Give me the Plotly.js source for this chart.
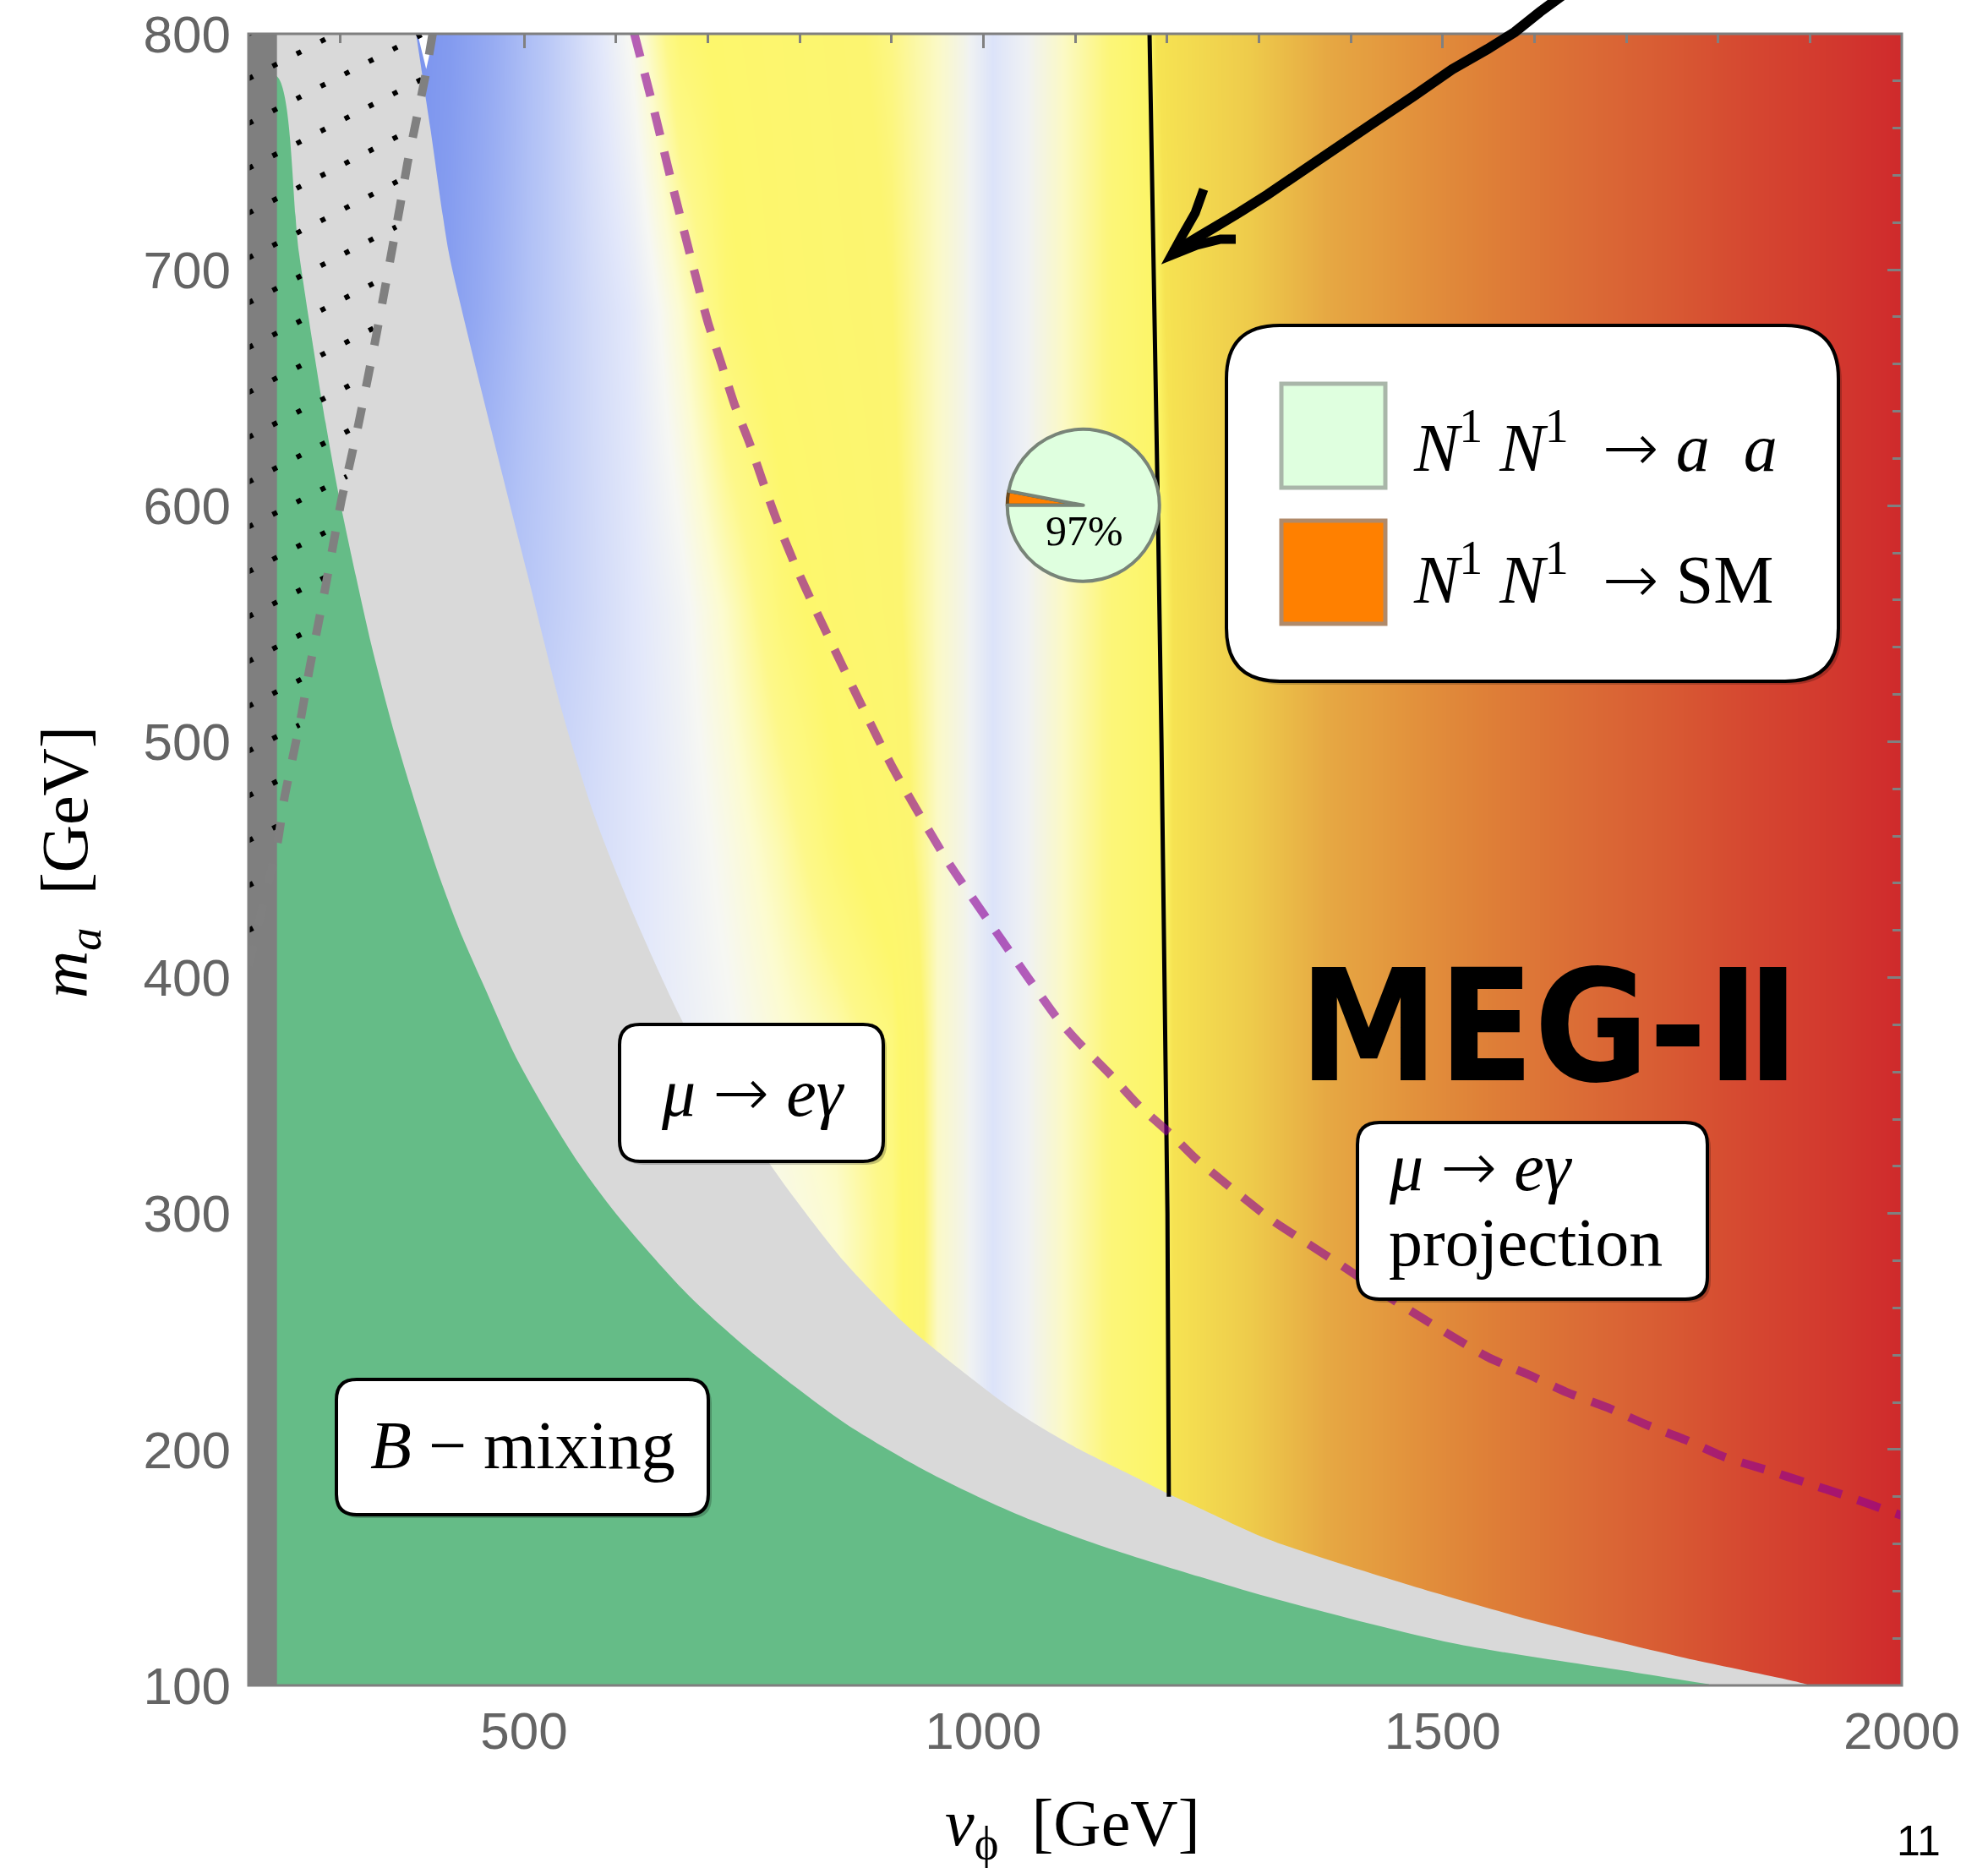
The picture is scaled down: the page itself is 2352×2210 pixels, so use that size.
<!DOCTYPE html>
<html><head><meta charset="utf-8">
<script src="https://cdn.plot.ly/plotly-3.0.1.min.js"></script>
<style>html,body{margin:0;padding:0;background:#fff}</style>
</head><body><div id="chart" style="width:2352px;height:2210px"></div>
<script>
// ---------------- data ----------------
// B-mixing excluded region (green), upper boundary
const greenX = [231, 255, 284, 298, 317, 335, 360, 384, 408.5, 433, 458, 489, 520, 560, 600, 680, 758, 850, 942, 1034, 1126, 1236, 1310, 1510, 1710, 1790];
const greenY = [782, 707, 635, 605, 570, 539, 502, 471, 442, 417, 395, 368, 346, 321, 300, 265, 238, 211, 190, 173, 159.5, 146, 137.5, 118, 105.5, 100.5];
// mu -> e gamma excluded region (light gray), upper boundary
const grayTopX = [382.5, 398, 417.7, 431.6, 466.9, 503.7, 540.5, 577.1, 620.1, 669.2, 715, 764, 788.7, 850, 911.4, 972.7, 1034, 1095.4, 1156.7, 1202.7, 1236.4, 1310, 1460, 1610, 1760, 1895, 1905];
const grayTopY = [800, 760, 708, 684, 628, 571, 514, 468, 426, 384, 351, 323, 309.5, 279, 254.4, 234.5, 216.5, 202, 190, 181, 175, 162, 143, 126.3, 112, 100.6, 99];
// small white gap at the top
const gapX = [384, 402, 393.5];
const gapY = [800, 800, 785];
// dark gray band on the left (v_phi range)
const bandX = [195, 231];
// gray dashed curve (upper left)
const lfvX = [400.5, 392, 382.5, 373, 365, 357, 339, 320, 311, 301, 292, 284, 275, 266, 258, 248.5, 239, 232, 200];
const lfvY = [800, 781, 763, 745, 727, 710, 672, 635, 619, 602, 583, 566, 548, 530, 512, 494, 476, 458, 405];
// dotted hatching: m_a where each dotted line meets v_phi = 200, and the slope of the lines
const hatchIntercepts = [800, 781, 762, 743, 724, 705, 686, 667, 648, 629, 610, 591, 572, 553, 534, 515, 496, 477, 458, 439, 420];
const hatchSlope = 0.2;
// MEG-II projection (purple dashed)
const megX = [620, 640, 662, 688, 700, 715, 729, 746, 761, 776, 795, 816, 900, 960, 1020, 1080, 1105, 1138, 1170, 1206, 1232, 1315, 1352, 1390, 1460, 1550, 1592, 1635, 1680, 1722, 1765, 1807, 1852, 1895, 1942, 1985, 2000];
const megY = [800, 770, 735, 695.5, 678, 660, 643, 626, 609, 593, 575, 557, 490, 450, 416, 383, 372, 359, 345.5, 333, 323, 297, 287.6, 278, 260, 239, 232, 224.3, 217.7, 210.5, 204, 196.8, 191.4, 186, 180, 174, 172];
// black solid curve
const relicX = [1181, 1186, 1190, 1194, 1197.5, 1200.5, 1202];
const relicY = [800, 700, 600, 500, 400, 300, 180];
// background colour map (value t read along rows of the picture)
const bgX = [200, 380, 420, 470, 520, 570, 620, 670, 720, 780, 840, 900, 950, 980, 1010, 1040, 1080, 1130, 1182, 1188, 1198, 1206, 1290, 1374, 1470, 1560, 1650, 1746, 1840, 1932, 2000];
const bgY = [100, 294, 376, 455, 556, 682, 800];
const bgT = [
  [0.2, 0.2, 0.2, 0.2, 0.2, 0.2, 0.22, 0.24, 0.26, 0.28, 0.30, 0.35, 0.48, 0.505, 0.54, 0.565, 0.595, 0.635, 0.662, 0.665, 0.67, 0.68, 0.72, 0.76, 0.80, 0.84, 0.88, 0.92, 0.95, 0.98, 1.0],
  [0.2, 0.2, 0.2, 0.2, 0.2, 0.2, 0.22, 0.24, 0.26, 0.28, 0.30, 0.35, 0.48, 0.505, 0.54, 0.565, 0.595, 0.635, 0.662, 0.665, 0.67, 0.68, 0.72, 0.76, 0.80, 0.84, 0.88, 0.92, 0.95, 0.98, 1.0],
  [0.18, 0.18, 0.18, 0.19, 0.195, 0.2, 0.225, 0.245, 0.265, 0.295, 0.32, 0.36, 0.48, 0.505, 0.54, 0.565, 0.595, 0.635, 0.662, 0.665, 0.67, 0.68, 0.72, 0.76, 0.80, 0.84, 0.88, 0.92, 0.95, 0.98, 1.0],
  [0.15, 0.15, 0.15, 0.16, 0.17, 0.195, 0.222, 0.25, 0.28, 0.32, 0.37, 0.41, 0.48, 0.505, 0.54, 0.565, 0.595, 0.635, 0.662, 0.665, 0.67, 0.68, 0.72, 0.76, 0.80, 0.84, 0.88, 0.92, 0.95, 0.98, 1.0],
  [0.05, 0.05, 0.08, 0.11, 0.145, 0.185, 0.225, 0.26, 0.305, 0.365, 0.40, 0.43, 0.48, 0.505, 0.54, 0.565, 0.595, 0.635, 0.662, 0.665, 0.67, 0.68, 0.72, 0.76, 0.80, 0.84, 0.88, 0.92, 0.95, 0.98, 1.0],
  [0.0, 0.0, 0.03, 0.08, 0.135, 0.19, 0.235, 0.30, 0.37, 0.40, 0.42, 0.44, 0.48, 0.505, 0.54, 0.565, 0.595, 0.635, 0.665, 0.67, 0.68, 0.684, 0.72, 0.76, 0.80, 0.84, 0.88, 0.92, 0.95, 0.98, 1.0],
  [0.0, 0.0, 0.02, 0.07, 0.13, 0.21, 0.28, 0.37, 0.39, 0.41, 0.43, 0.45, 0.48, 0.505, 0.54, 0.565, 0.595, 0.635, 0.67, 0.68, 0.683, 0.686, 0.72, 0.76, 0.80, 0.84, 0.88, 0.92, 0.95, 0.98, 1.0]
];
const bgStops  = [0.00, 0.06, 0.12, 0.18, 0.23, 0.27, 0.30, 0.34, 0.38, 0.44, 0.48, 0.51, 0.54, 0.57, 0.60, 0.64, 0.67, 0.68, 0.72, 0.76, 0.80, 0.84, 0.88, 0.92, 0.95, 0.98, 1.00];
const bgColors = ['#7b94ee', '#94a9f2', '#b2c2f6', '#ccd6f8', '#e3e8fa', '#f6f7f3', '#fcfbd0', '#fdf88a', '#fdf76c', '#fcf570', '#fbf9c6', '#f0f2f2', '#dce3f9', '#eff1f4', '#fbf9c6', '#fcf678', '#fcf566', '#f6e352', '#eecb4b', '#e6a843', '#e2913c', '#de7d37', '#db6c36', '#d85a33', '#d54630', '#d2372e', '#cf2a2c'];
// annihilation fractions in the pie
const pieLabels = ['N¹N¹ → SM', 'N¹N¹ → a a'];
const pieValues = [3, 97];
// ticks
const xTicks = [500, 1000, 1500, 2000];
const yTicks = [100, 200, 300, 400, 500, 600, 700, 800];

// ---------------- page geometry ----------------
const W = 2352, H = 2210, ML = 294, MR = 102, MT = 40, MB = 216;
const PW = W - ML - MR, PH = H - MT - MB;
const px = X => (X - ML) / PW;
const py = Y => (H - MB - Y) / PH;
const P = (X, Y) => px(X).toFixed(5) + ',' + py(Y).toFixed(5);
function rr(x0, y0, x1, y1, r) {
  return `M${P(x0 + r, y0)} L${P(x1 - r, y0)} Q${P(x1, y0)} ${P(x1, y0 + r)} L${P(x1, y1 - r)} Q${P(x1, y1)} ${P(x1 - r, y1)} L${P(x0 + r, y1)} Q${P(x0, y1)} ${P(x0, y1 - r)} L${P(x0, y0 + r)} Q${P(x0, y0)} ${P(x0 + r, y0)} Z`;
}
function poly(pts) { return 'M' + pts.map(p => P(p[0], p[1])).join(' L'); }

// hatch lines: from v_phi=200 up to the dashed curve
const hx = [], hy = [];
hatchIntercepts.forEach(b => {
  let xe = 200 + (820 - b) / hatchSlope;
  for (let i = 0; i < lfvX.length - 1; i++) {
    const x1 = lfvX[i], y1 = lfvY[i], x2 = lfvX[i + 1], y2 = lfvY[i + 1];
    const den = (y2 - y1) - hatchSlope * (x2 - x1);
    if (Math.abs(den) < 1e-9) continue;
    const t = (b + hatchSlope * (x1 - 200) - y1) / den;
    if (t >= 0 && t <= 1) { const xi = x1 + t * (x2 - x1); if (b + hatchSlope * (xi - 200) <= 800) { xe = xi; } break; }
  }
  hx.push(200, xe, null);
  hy.push(b, b + hatchSlope * (xe - 200), null);
});

const colorscale = bgStops.map((s, i) => [s, bgColors[i]]);
const noHover = { hoverinfo: 'skip', showlegend: false };

const traces = [
  Object.assign({ type: 'heatmap', x: bgX, y: bgY, z: bgT, zmin: 0, zmax: 1, zsmooth: 'best', colorscale: colorscale, showscale: false }, noHover),
  Object.assign({ type: 'scatter', mode: 'lines', x: [200, 378].concat(grayTopX), y: [812, 812].concat(grayTopY), fill: 'tozeroy', fillcolor: '#d9d9d9', line: { width: 0, color: '#d9d9d9', shape: 'spline', smoothing: 0.8 } }, noHover),
  Object.assign({ type: 'scatter', mode: 'lines', x: gapX, y: gapY, fill: 'toself', fillcolor: '#ffffff', line: { width: 0, color: '#ffffff' } }, noHover),
  Object.assign({ type: 'scatter', mode: 'lines', x: [200].concat(greenX), y: [782].concat(greenY), fill: 'tozeroy', fillcolor: '#65bc87', line: { width: 0, color: '#65bc87', shape: 'spline', smoothing: 0.8 } }, noHover),
  Object.assign({ type: 'scatter', mode: 'lines', x: [bandX[0], bandX[1], bandX[1], bandX[0]], y: [90, 90, 810, 810], fill: 'toself', fillcolor: '#7f7f7f', line: { width: 0, color: '#7f7f7f' } }, noHover),
  Object.assign({ type: 'scatter', mode: 'lines', x: relicX, y: relicY, line: { color: '#000000', width: 5 } }, noHover),
  Object.assign({ type: 'scatter', mode: 'lines', x: megX, y: megY, line: { color: 'rgba(140,0,150,0.62)', width: 10, dash: '28px,20px', shape: 'spline', smoothing: 0.6 } }, noHover),
  Object.assign({ type: 'scatter', mode: 'lines', x: hx, y: hy, connectgaps: false, line: { color: '#000000', width: 6, dash: '6px,26px' } }, noHover),
  Object.assign({ type: 'scatter', mode: 'lines', x: lfvX, y: lfvY, line: { color: '#808080', width: 10, dash: '25px,25px', shape: 'spline', smoothing: 0.5 } }, noHover),
  Object.assign({ type: 'pie', labels: pieLabels, values: pieValues, sort: false, direction: 'clockwise', rotation: -90, textinfo: 'none',
    marker: { colors: ['#ff8000', '#dfffdf'], line: { color: ['#6a4a20', '#788478'], width: 4 } },
    domain: { x: [px(1281.7 - 90), px(1281.7 + 90)], y: [py(597.8 + 90), py(597.8 - 90)] } }, noHover),
  Object.assign({ type: 'scatter', mode: 'markers', x: [1000], y: [500], xaxis: 'x2', yaxis: 'y', marker: { opacity: 0 } }, noHover),
  Object.assign({ type: 'scatter', mode: 'markers', x: [1000], y: [500], xaxis: 'x', yaxis: 'y2', marker: { opacity: 0 } }, noHover)
];

const tickFont = { family: 'Liberation Sans, Arial, Helvetica, sans-serif', size: 62, color: '#646464' };
const serif = 'Liberation Serif, Times New Roman, DejaVu Serif, serif';
const gridOff = { showgrid: false, zeroline: false, showline: false };
const tickCol = '#808080';
const ARROW = '<span style="font-family:DejaVu Sans Light, DejaVu Sans">→</span>';

const shapes = [];
function box(x0, y0, x1, y1, r) {
  shapes.push({ type: 'path', xref: 'paper', yref: 'paper', layer: 'above', path: rr(x0 + 4, y0 + 4, x1 + 4, y1 + 4, r), fillcolor: 'rgba(0,0,0,0.22)', line: { width: 0 } });
  shapes.push({ type: 'path', xref: 'paper', yref: 'paper', layer: 'above', path: rr(x0, y0, x1, y1, r), fillcolor: '#ffffff', line: { color: '#000000', width: 4 } });
}
box(733, 1212, 1045, 1374, 24);      // mu -> e gamma
box(398, 1632, 838, 1792, 24);       // B - mixing
box(1606, 1328, 2020, 1537, 26);     // projection
box(1451, 385, 2175, 806, 63);       // legend
// legend swatches
shapes.push({ type: 'rect', xref: 'paper', yref: 'paper', layer: 'above', x0: px(1516), x1: px(1639), y0: py(577), y1: py(454), fillcolor: '#dfffdf', line: { color: '#a9b6a9', width: 5 } });
shapes.push({ type: 'rect', xref: 'paper', yref: 'paper', layer: 'above', x0: px(1516), x1: px(1639), y0: py(738), y1: py(616), fillcolor: '#ff8000', line: { color: '#b08a6a', width: 5 } });
// frame
shapes.push({ type: 'rect', xref: 'paper', yref: 'paper', layer: 'above', x0: 0, x1: 1, y0: 0, y1: 1, fillcolor: 'rgba(0,0,0,0)', line: { color: '#7f7f7f', width: 3 } });
// hand-drawn arrow
shapes.push({ type: 'path', xref: 'paper', yref: 'paper', layer: 'above', path: poly([[1852, -8], [1822, 14], [1792, 38], [1760, 58], [1718, 82], [1672, 114], [1624, 146], [1556, 192], [1500, 230], [1462, 254], [1420, 279], [1387, 299]]), line: { color: '#000000', width: 12 } });
shapes.push({ type: 'path', xref: 'paper', yref: 'paper', layer: 'above', path: poly([[1424, 224], [1414, 252], [1398, 280], [1386, 302], [1416, 290], [1444, 283], [1462, 283]]), line: { color: '#000000', width: 11 } });

const ann = (x, y, text, size, extra) => Object.assign({ xref: 'paper', yref: 'paper', x: px(x), y: py(y), text: text, showarrow: false, xanchor: 'center', yanchor: 'middle', font: { family: serif, size: size, color: '#000000' } }, extra || {});

const annotations = [
  ann(891, 1292, '<i>μ</i> ' + ARROW + ' <i>eγ</i>', 80),
  ann(618, 1710, '<i>B</i> − mixing', 80),
  ann(1641, 1380, '<i>μ</i> ' + ARROW + ' <i>eγ</i>', 80, { xanchor: 'left' }),
  ann(1641, 1470, 'projection', 80, { xanchor: 'left' }),
  ann(1670, 524, '<i>N</i><sup>1</sup> <i>N</i><sup>1</sup>&nbsp; ' + ARROW + ' <i>a</i>&nbsp;&nbsp;<i>a</i>', 80, { xanchor: 'left' }),
  ann(1670, 680, '<i>N</i><sup>1</sup> <i>N</i><sup>1</sup>&nbsp; ' + ARROW + ' SM', 80, { xanchor: 'left' }),
  ann(1283, 628, '97%', 50),
  ann(1833, 1214, '<b>MEG-Ⅱ</b>', 184, { font: { family: 'Liberation Sans Narrow, DejaVu Sans Condensed, Arial Narrow, sans-serif', size: 184, color: '#000000' } }),
  ann(1269, 2162, '<i>v</i><sub>ϕ</sub>  [GeV]', 78),
  ann(82, 1020, '<i>m</i><sub><i>a</i></sub>  [GeV]', 78, { textangle: -90 }),
  ann(2270, 2178, '11', 50, { font: { family: 'Liberation Sans, Arial, sans-serif', size: 50, color: '#000000' } })
];

const layout = {
  width: W, height: H,
  margin: { l: ML, r: MR, t: MT, b: MB, pad: 0 },
  paper_bgcolor: '#ffffff', plot_bgcolor: '#ffffff',
  showlegend: false, hovermode: false,
  xaxis: Object.assign({ range: [200, 2000], tickmode: 'array', tickvals: xTicks, ticktext: xTicks.map(String), ticks: '', tickfont: tickFont, ticklabelstandoff: 12, layer: 'below traces' }, gridOff),
  yaxis: Object.assign({ range: [100, 800], tickmode: 'array', tickvals: yTicks, ticktext: yTicks.map(String), ticks: '', tickfont: tickFont, ticklabelstandoff: 20, layer: 'below traces' }, gridOff),
  xaxis2: Object.assign({ overlaying: 'x', side: 'top', anchor: 'y', range: [200, 2000], tickmode: 'linear', tick0: 0, dtick: 500, ticks: 'inside', ticklen: 17, tickwidth: 3, tickcolor: tickCol, showticklabels: false, layer: 'above traces',
    minor: { ticks: 'inside', tick0: 0, dtick: 100, ticklen: 11, tickwidth: 3, tickcolor: tickCol, showgrid: false } }, gridOff),
  yaxis2: Object.assign({ overlaying: 'y', side: 'right', anchor: 'x', range: [100, 800], tickmode: 'linear', tick0: 0, dtick: 100, ticks: 'inside', ticklen: 17, tickwidth: 3, tickcolor: tickCol, showticklabels: false, layer: 'above traces',
    minor: { ticks: 'inside', tick0: 0, dtick: 20, ticklen: 11, tickwidth: 3, tickcolor: tickCol, showgrid: false } }, gridOff),
  shapes: shapes,
  annotations: annotations
};

Plotly.newPlot('chart', traces, layout, { staticPlot: true, displayModeBar: false });
</script>
</body></html>
